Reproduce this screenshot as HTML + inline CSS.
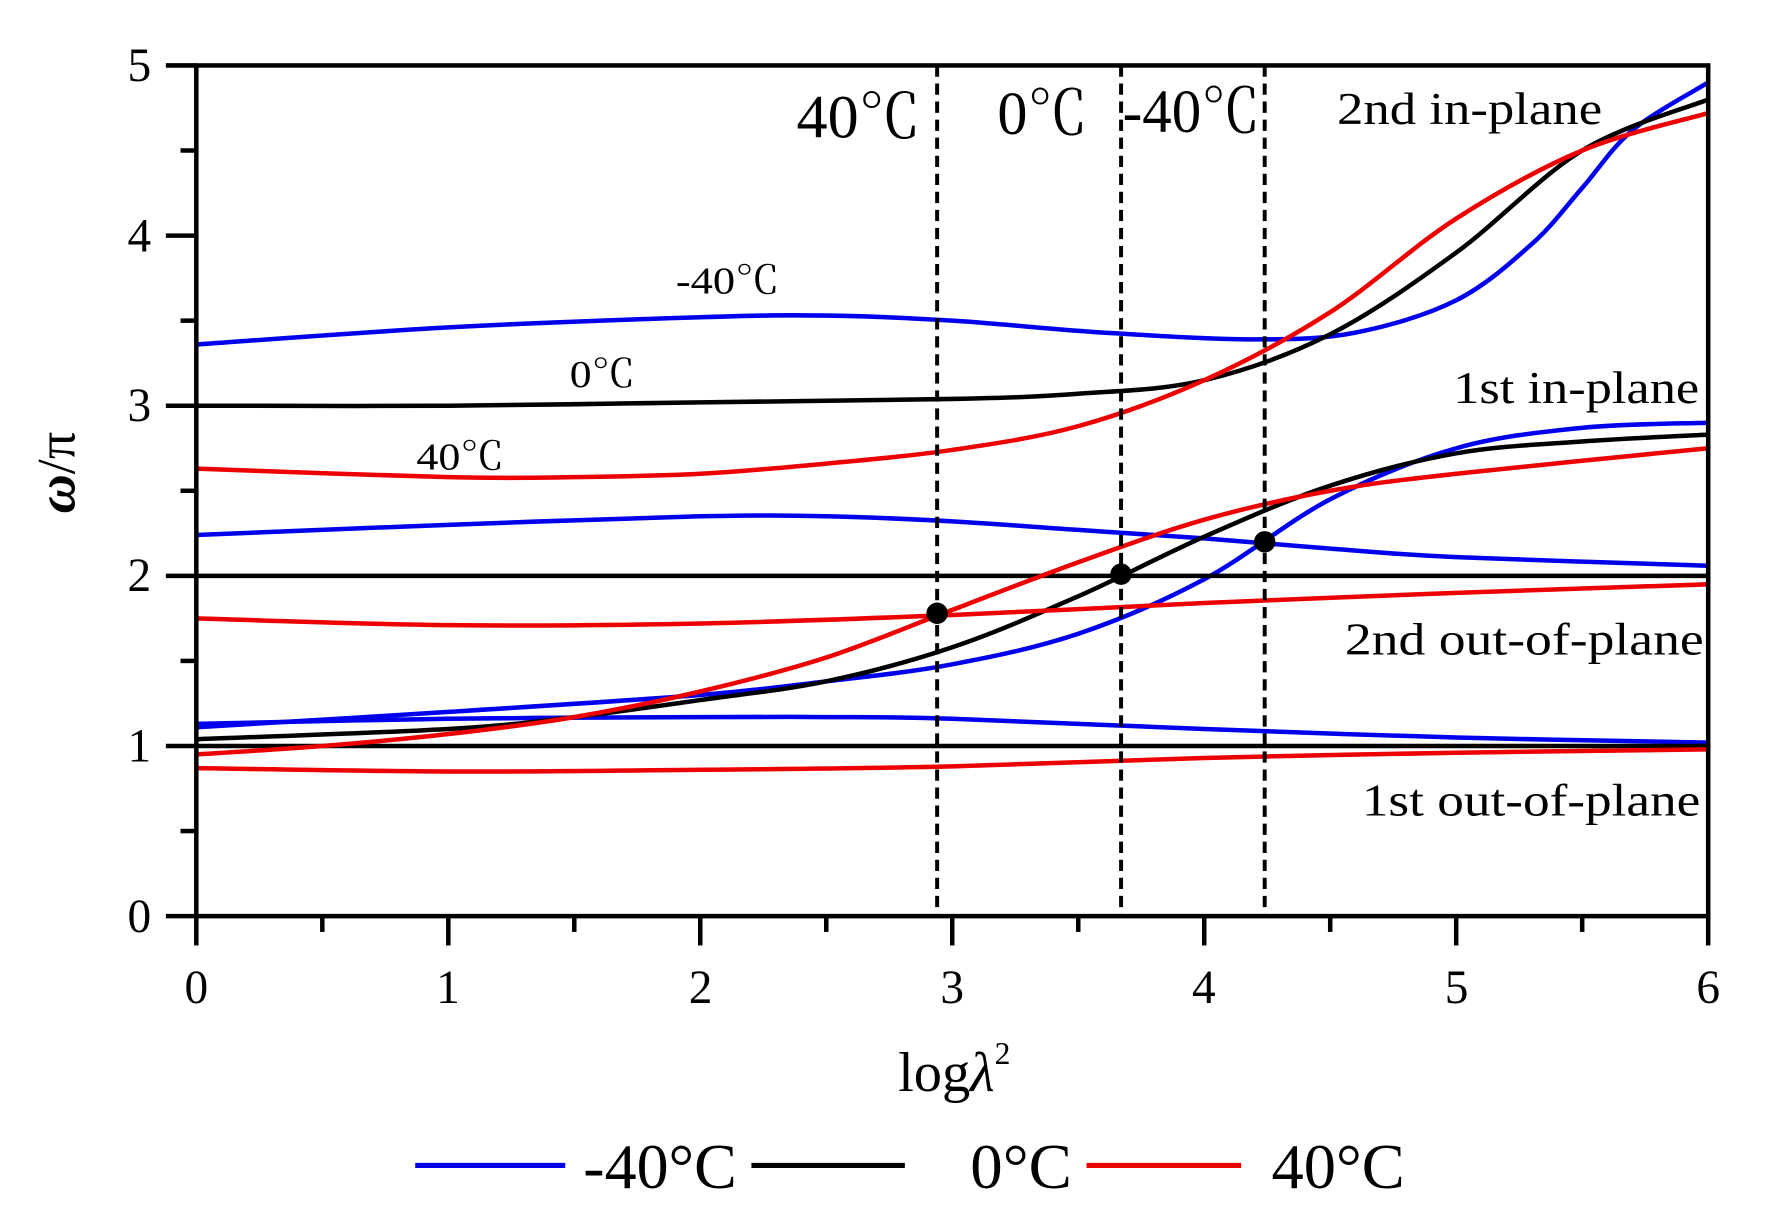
<!DOCTYPE html>
<html><head><meta charset="utf-8"><style>
html,body{margin:0;padding:0;background:#fff;}
svg{display:block;}
text{font-family:"Liberation Serif","Noto Serif CJK SC",serif;fill:#000;}
</style></head><body>
<svg id="s" width="1768" height="1223" viewBox="0 0 1567 1084" preserveAspectRatio="none" xmlns="http://www.w3.org/2000/svg">
<g id="curves" fill="none" stroke-width="4"></g>
<g id="axes" stroke="#000" stroke-width="4" fill="none"></g>
<g font-size="42" text-anchor="middle">
<text x="174" y="889">0</text><text x="397" y="889">1</text><text x="621" y="889">2</text><text x="844" y="889">3</text><text x="1067" y="889">4</text><text x="1291" y="889">5</text><text x="1514" y="889">6</text>
</g>
<g font-size="42" text-anchor="end">
<text x="134" y="826">0</text><text x="134" y="675">1</text><text x="134" y="524">2</text><text x="134" y="373">3</text><text x="134" y="223">4</text><text x="134" y="72">5</text>
</g>
<text x="0" y="0" font-size="48" font-style="italic" font-weight="bold" transform="translate(66,455) rotate(-90)">ω<tspan font-style="normal" font-weight="normal">/π</tspan></text>
<text x="796" y="967" font-size="50">log<tspan font-style="italic">λ</tspan><tspan font-size="28" dy="-24">2</tspan></text>
<g font-size="54">
<text x="706" y="122" textLength="110" lengthAdjust="spacingAndGlyphs">40℃</text>
<text x="884" y="119" textLength="80" lengthAdjust="spacingAndGlyphs">0℃</text>
<text x="995" y="117" textLength="122" lengthAdjust="spacingAndGlyphs">-40℃</text>
</g>
<g font-size="40">
<text x="1185" y="110" textLength="235" lengthAdjust="spacingAndGlyphs">2nd in-plane</text>
<text x="1288" y="357" textLength="218" lengthAdjust="spacingAndGlyphs">1st in-plane</text>
<text x="1192" y="580" textLength="318" lengthAdjust="spacingAndGlyphs">2nd out-of-plane</text>
<text x="1207" y="723" textLength="300" lengthAdjust="spacingAndGlyphs">1st out-of-plane</text>
</g>
<g font-size="34">
<text x="599" y="260" textLength="92" lengthAdjust="spacingAndGlyphs">-40℃</text>
<text x="505" y="343" textLength="58" lengthAdjust="spacingAndGlyphs">0℃</text>
<text x="369" y="416" textLength="78" lengthAdjust="spacingAndGlyphs">40℃</text>
</g>
<g stroke-width="4.5">
<line x1="368" y1="1033" x2="501" y2="1033" stroke="#0000ee"/>
<line x1="666" y1="1033" x2="802" y2="1033" stroke="#000"/>
<line x1="963" y1="1033" x2="1100" y2="1033" stroke="#ee0000"/>
</g>
<g font-size="56">
<text x="517" y="1053" textLength="136" lengthAdjust="spacingAndGlyphs">-40°C</text>
<text x="860" y="1053" textLength="90" lengthAdjust="spacingAndGlyphs">0°C</text>
<text x="1127" y="1053" textLength="118" lengthAdjust="spacingAndGlyphs">40°C</text>
</g>
</svg>
<script>
var X=function(v){return 174+v*223.33},Y=function(v){return 812-v*150.8};
function path(pts){var p=pts.map(function(a){return [X(a[0]),Y(a[1])]});var d="M"+p[0][0].toFixed(1)+","+p[0][1].toFixed(1);
for(var i=0;i<p.length-1;i++){var p0=p[i-1]||p[i],p1=p[i],p2=p[i+1],p3=p[i+2]||p2;
var c1=[p1[0]+(p2[0]-p0[0])/6,p1[1]+(p2[1]-p0[1])/6],c2=[p2[0]-(p3[0]-p1[0])/6,p2[1]-(p3[1]-p1[1])/6];
d+=" C"+c1[0].toFixed(1)+","+c1[1].toFixed(1)+" "+c2[0].toFixed(1)+","+c2[1].toFixed(1)+" "+p2[0].toFixed(1)+","+p2[1].toFixed(1);}return d;}
var B="#0000ee",K="#000",R="#ee0000";
var C=[
[B,[[0,1.13],[1,1.16],[2,1.17],[2.5,1.17],[3,1.16],[4,1.1],[5,1.05],[6,1.02]]],
[B,[[0,1.11],[1,1.2],[2,1.3],[2.5,1.38],[3,1.48],[3.5,1.66],[4,1.98],[4.5,2.45],[5,2.75],[5.5,2.87],[6,2.9]]],
[B,[[0,2.24],[1,2.3],[2,2.35],[2.5,2.35],[3,2.32],[3.5,2.27],[4,2.22],[4.5,2.16],[5,2.11],[6,2.06]]],
[B,[[0,3.36],[1,3.46],[2,3.52],[2.5,3.53],[3,3.5],[3.6,3.43],[4.2,3.39],[4.6,3.43],[5,3.62],[5.3,3.95],[5.5,4.28],[5.7,4.62],[6,4.9]]],
[K,[[0,1],[6,1]]],
[K,[[0,1.04],[1,1.1],[1.5,1.17],[2,1.27],[2.5,1.38],[3,1.58],[3.5,1.88],[4,2.23],[4.5,2.53],[5,2.72],[5.5,2.79],[6,2.83]]],
[K,[[0,2],[6,2]]],
[K,[[0,3.0],[1,3.0],[2,3.02],[3,3.04],[3.5,3.07],[4,3.15],[4.5,3.42],[5,3.9],[5.5,4.5],[6,4.8]]],
[R,[[0,0.87],[1,0.85],[2,0.86],[3,0.88],[4,0.93],[5,0.96],[6,0.98]]],
[R,[[0,0.95],[0.5,1.0],[1,1.07],[1.5,1.17],[2,1.32],[2.5,1.52],[3,1.8],[3.5,2.08],[4,2.33],[4.5,2.5],[5,2.6],[6,2.75]]],
[R,[[0,1.75],[1,1.71],[2,1.72],[3,1.77],[4,1.84],[5,1.9],[6,1.95]]],
[R,[[0,2.63],[1,2.58],[1.5,2.58],[2,2.6],[2.5,2.66],[3,2.74],[3.5,2.88],[4,3.15],[4.5,3.55],[5,4.1],[5.5,4.5],[6,4.72]]]];
var ns="http://www.w3.org/2000/svg",g=document.getElementById("curves"),a=document.getElementById("axes");
function el(p,t,at){var e=document.createElementNS(ns,t);for(var k in at)e.setAttribute(k,at[k]);p.appendChild(e);return e;}
C.forEach(function(c){el(g,"path",{d:path(c[1]),stroke:c[0]});});
[2.94,3.67,4.24].forEach(function(v){el(g,"line",{x1:X(v),y1:58,x2:X(v),y2:812,stroke:"#000","stroke-width":3.5,"stroke-dasharray":"10,6"});});
[[2.94,1.78],[3.67,2.01],[4.24,2.2]].forEach(function(p){el(g,"circle",{cx:X(p[0]),cy:Y(p[1]),r:9.5,fill:"#000",stroke:"none"});});
el(a,"rect",{x:174,y:58,width:1340,height:754});
for(var i=0;i<=10;i++){var y=Y(i/2);el(a,"line",{x1:i%2?160:147,y1:y,x2:174,y2:y});}
for(var i=0;i<=12;i++){var x=X(i/2);el(a,"line",{x1:x,y1:812,x2:x,y2:i%2?826:838});}
</script>
</body></html>
